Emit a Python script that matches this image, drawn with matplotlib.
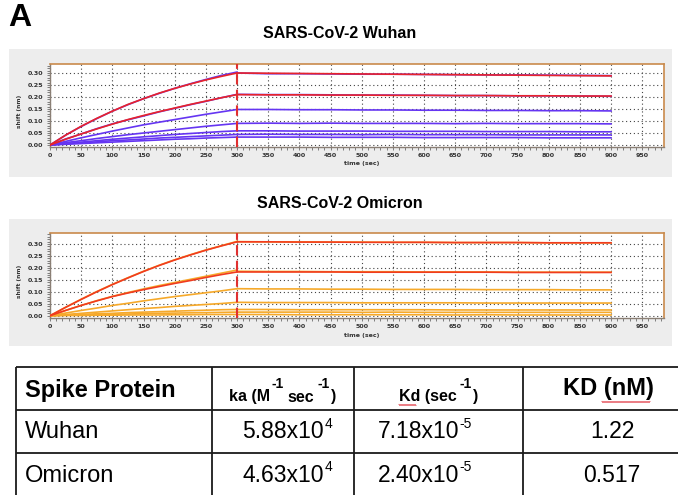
import numpy as np
import matplotlib.pyplot as plt
from matplotlib.patches import Rectangle
from matplotlib.ticker import MultipleLocator

plt.rcParams['font.family'] = ['Liberation Sans', 'DejaVu Sans']

W, H = 678, 495

# time points (sec)
t_assoc = [0, 25, 50, 75, 100, 125, 150, 175, 200, 225, 250, 275, 300]
t_dissoc = [300, 350, 400, 450, 500, 550, 600, 650, 700, 750, 800, 850, 900]

# Wuhan sensorgrams (shift, nm)
wuhan_assoc = [
    [0.000, 0.041, 0.077, 0.110, 0.141, 0.168, 0.193, 0.215, 0.236, 0.255, 0.273, 0.290, 0.304],
    [0.000, 0.025, 0.046, 0.068, 0.088, 0.105, 0.121, 0.138, 0.153, 0.168, 0.182, 0.197, 0.211],
    [0.000, 0.015, 0.030, 0.044, 0.058, 0.071, 0.084, 0.095, 0.106, 0.117, 0.128, 0.138, 0.148],
    [0.000, 0.010, 0.018, 0.027, 0.035, 0.043, 0.050, 0.057, 0.064, 0.071, 0.078, 0.084, 0.090],
    [0.000, 0.006, 0.012, 0.018, 0.024, 0.029, 0.034, 0.039, 0.044, 0.048, 0.052, 0.056, 0.059],
    [0.000, 0.005, 0.009, 0.013, 0.018, 0.021, 0.025, 0.029, 0.032, 0.035, 0.038, 0.041, 0.044],
    [0.000, 0.003, 0.006, 0.009, 0.012, 0.015, 0.018, 0.021, 0.024, 0.026, 0.029, 0.031, 0.033],
]
wuhan_dissoc = [
    [0.300, 0.297, 0.297, 0.296, 0.295, 0.295, 0.294, 0.293, 0.292, 0.292, 0.291, 0.290, 0.289],
    [0.211, 0.210, 0.210, 0.209, 0.208, 0.208, 0.207, 0.206, 0.206, 0.205, 0.205, 0.204, 0.203],
    [0.148, 0.148, 0.147, 0.147, 0.146, 0.146, 0.145, 0.145, 0.144, 0.144, 0.143, 0.143, 0.142],
    [0.090, 0.091, 0.090, 0.091, 0.090, 0.090, 0.090, 0.089, 0.090, 0.089, 0.089, 0.089, 0.088],
    [0.059, 0.059, 0.058, 0.058, 0.058, 0.057, 0.057, 0.057, 0.056, 0.056, 0.056, 0.055, 0.055],
    [0.044, 0.045, 0.044, 0.044, 0.043, 0.044, 0.043, 0.043, 0.043, 0.042, 0.042, 0.042, 0.042],
    [0.033, 0.033, 0.033, 0.032, 0.032, 0.032, 0.031, 0.031, 0.031, 0.031, 0.030, 0.030, 0.030],
]
wuhan_fit_assoc = [
    [0.000, 0.041, 0.078, 0.111, 0.141, 0.169, 0.193, 0.216, 0.236, 0.254, 0.271, 0.286, 0.300],
    [0.000, 0.024, 0.046, 0.067, 0.087, 0.106, 0.123, 0.139, 0.154, 0.169, 0.183, 0.197, 0.210],
]
wuhan_fit_dissoc = [
    [0.300, 0.299, 0.298, 0.297, 0.296, 0.295, 0.294, 0.293, 0.292, 0.291, 0.290, 0.289, 0.288],
    [0.210, 0.209, 0.209, 0.208, 0.208, 0.207, 0.207, 0.206, 0.206, 0.205, 0.205, 0.204, 0.204],
]

# Omicron sensorgrams (shift, nm)
omicron_assoc = [
    [0.000, 0.035, 0.069, 0.101, 0.131, 0.159, 0.186, 0.211, 0.234, 0.255, 0.275, 0.293, 0.311],
    [0.000, 0.022, 0.043, 0.063, 0.081, 0.097, 0.112, 0.126, 0.139, 0.152, 0.165, 0.178, 0.191],
    [0.000, 0.011, 0.022, 0.032, 0.043, 0.052, 0.062, 0.071, 0.080, 0.088, 0.096, 0.104, 0.113],
    [0.000, 0.005, 0.010, 0.015, 0.020, 0.025, 0.030, 0.034, 0.039, 0.043, 0.047, 0.051, 0.056],
    [0.000, 0.003, 0.005, 0.008, 0.010, 0.013, 0.015, 0.017, 0.019, 0.021, 0.023, 0.025, 0.026],
    [0.000, 0.002, 0.003, 0.005, 0.006, 0.007, 0.009, 0.010, 0.011, 0.012, 0.013, 0.014, 0.015],
    [0.000, 0.001, 0.001, 0.002, 0.002, 0.003, 0.003, 0.003, 0.004, 0.004, 0.005, 0.005, 0.005],
]
omicron_dissoc = [
    [0.310, 0.309, 0.309, 0.308, 0.308, 0.307, 0.307, 0.306, 0.306, 0.306, 0.305, 0.305, 0.305],
    [0.186, 0.185, 0.185, 0.184, 0.184, 0.184, 0.183, 0.183, 0.183, 0.182, 0.182, 0.182, 0.182],
    [0.113, 0.112, 0.112, 0.111, 0.111, 0.110, 0.110, 0.110, 0.109, 0.109, 0.109, 0.108, 0.108],
    [0.056, 0.055, 0.055, 0.055, 0.054, 0.054, 0.054, 0.054, 0.053, 0.053, 0.053, 0.053, 0.053],
    [0.026, 0.026, 0.025, 0.025, 0.025, 0.025, 0.025, 0.024, 0.024, 0.024, 0.024, 0.024, 0.024],
    [0.015, 0.015, 0.015, 0.015, 0.014, 0.015, 0.014, 0.014, 0.014, 0.014, 0.014, 0.014, 0.014],
    [0.005, 0.005, 0.004, 0.004, 0.004, 0.004, 0.004, 0.003, 0.004, 0.003, 0.003, 0.003, 0.003],
]
omicron_fit_assoc = [
    [0.000, 0.035, 0.068, 0.100, 0.130, 0.158, 0.185, 0.210, 0.233, 0.254, 0.274, 0.292, 0.309],
    [0.000, 0.022, 0.043, 0.062, 0.080, 0.095, 0.109, 0.122, 0.135, 0.147, 0.160, 0.172, 0.183],
]
omicron_fit_dissoc = [
    [0.309, 0.309, 0.308, 0.308, 0.307, 0.307, 0.307, 0.306, 0.306, 0.306, 0.305, 0.305, 0.305],
    [0.183, 0.183, 0.183, 0.183, 0.182, 0.182, 0.182, 0.182, 0.182, 0.181, 0.181, 0.181, 0.181],
]

# kinetics table
row_names = ['Wuhan', 'Omicron']
ka_mant = ['5.88x10', '4.63x10']
ka_exp = ['4', '4']
kd_mant = ['7.18x10', '2.40x10']
kd_exp = ['-5', '-5']
KD_values = ['1.22', '0.517']

fig = plt.figure(figsize=(W / 100, H / 100), dpi=100)
fig.patch.set_facecolor('white')

# pixel overlay for backgrounds, titles and table
ov = fig.add_axes([0, 0, 1, 1])
ov.set_xlim(0, W)
ov.set_ylim(H, 0)
ov.axis('off')

ov.add_patch(Rectangle((9, 49), 663, 128, color='#ededed', lw=0))
ov.add_patch(Rectangle((9, 219), 663, 127, color='#ededed', lw=0))

ov.text(8, 18, 'A', fontsize=23, fontweight='bold', va='center', ha='left')
ov.text(340, 33, 'SARS-CoV-2 Wuhan', fontsize=11.5, fontweight='bold', ha='center', va='center')
ov.text(340, 204, 'SARS-CoV-2 Omicron', fontsize=11.5, fontweight='bold', ha='center', va='center')


def px_axes(x0, y0, x1, y1):
    return fig.add_axes([x0 / W, 1 - y1 / H, (x1 - x0) / W, (y1 - y0) / H])


def sensor_panel(ax, ylim, assoc, dissoc, fit_a, fit_d, c_data, c_fit):
    ax.set_facecolor('white')
    ax.set_xlim(0, 985)
    ax.set_ylim(*ylim)
    ax.xaxis.set_major_locator(MultipleLocator(50))
    ax.xaxis.set_minor_locator(MultipleLocator(10))
    ax.yaxis.set_minor_locator(MultipleLocator(0.01))
    ax.set_yticks([0, 0.05, 0.10, 0.15, 0.20, 0.25, 0.30])
    ax.yaxis.set_major_formatter(lambda v, p: f'{v:.2f}')
    ax.grid(True, which='major', ls=(0, (1, 2.5)), color='#444444', lw=0.8)
    for s in ['top', 'right']:
        ax.spines[s].set_color('#c98a4b')
        ax.spines[s].set_linewidth(1.2)
    for s in ['left', 'bottom']:
        ax.spines[s].set_color('#8a7f75')
        ax.spines[s].set_linewidth(1.0)
    ax.tick_params(which='both', direction='out', colors='#6b6b6b', labelsize=4.6,
                   labelcolor='#333333', width=0.6)
    ax.tick_params(which='major', length=2.5, pad=2)
    ax.tick_params(which='minor', length=2)
    for lab in ax.get_xticklabels() + ax.get_yticklabels():
        lab.set_fontweight('bold')
        lab.set_family('DejaVu Sans')
    for a, d in zip(assoc, dissoc):
        ax.plot(t_assoc, a, color=c_data, lw=1.2, zorder=3)
        ax.plot(t_dissoc, d, color=c_data, lw=1.2, zorder=3)
    for a, d in zip(fit_a, fit_d):
        ax.plot(t_assoc, a, color=c_fit, lw=1.2, zorder=4)
        ax.plot(t_dissoc, d, color=c_fit, lw=1.2, zorder=4)
    ax.axvline(300, color='#e03030', lw=1.5, ls=(0, (5, 2.5)), zorder=5)
    ax.text(500, -0.2, 'time (sec)', transform=ax.get_xaxis_transform(), fontsize=4.5,
            fontweight='bold', family='DejaVu Sans', ha='center', va='center', color='#333333')
    ax.text(-0.05, 0.43, 'shift (nm)', transform=ax.transAxes, rotation=90, fontsize=4.2,
            fontweight='bold', family='DejaVu Sans', ha='center', va='center', color='#333333')


ax1 = px_axes(50, 64, 664, 147)
sensor_panel(ax1, (-0.0083, 0.3375), wuhan_assoc, wuhan_dissoc,
             wuhan_fit_assoc, wuhan_fit_dissoc, '#6535f2', '#e8232a')

ax2 = px_axes(50, 233, 664, 318)
sensor_panel(ax2, (-0.0096, 0.346), omicron_assoc, omicron_dissoc,
             omicron_fit_assoc, omicron_fit_dissoc, '#f6a92a', '#f03b1f')

# table grid
lw_t = 1.3
for y in [367, 410, 453]:
    ov.plot([16, W], [y, y], color='#1a1a1a', lw=lw_t, solid_capstyle='butt')
for x in [16, 211.5, 354, 522.5]:
    ov.plot([x, x], [367, H], color='#1a1a1a', lw=lw_t, solid_capstyle='butt')

# header
hdr = dict(fontsize=11.5, fontweight='bold', va='baseline')
sup = dict(fontsize=10, fontweight='bold', va='baseline')
base_y, sup_y = 401.5, 387.5
ov.text(25, 390, 'Spike Protein', fontsize=17, fontweight='bold', ha='left', va='center')
ov.text(270, base_y, 'ka (M', ha='right', **hdr)
ov.text(271, sup_y, '-1', ha='left', **sup)
ov.text(287, base_y, 'sec', ha='left', **hdr)
ov.text(317, sup_y, '-1', ha='left', **sup)
ov.text(331, base_y, ')', ha='left', **hdr)

ov.text(457, base_y, 'Kd (sec', ha='right', **hdr)
ov.text(459, sup_y, '-1', ha='left', **sup)
ov.text(473, base_y, ')', ha='left', **hdr)

ov.text(608, 389, 'KD (nM)', fontsize=17, fontweight='bold', ha='center', va='center')


# spell-check squiggles
def squiggle(x0, x1, y):
    xs = np.arange(x0, x1 + 0.1, 1.0)
    ys = y + np.where(np.arange(len(xs)) % 2 == 0, -0.6, 0.6)
    ov.plot(xs, ys, color='#e0303a', lw=0.6)


squiggle(399, 416, 405)
squiggle(602, 650, 402)

# rows
for i, name in enumerate(row_names):
    yb = 438.5 + i * 43.5
    ov.text(25, yb, name, fontsize=17, ha='left', va='baseline')
    ov.text(324, yb, ka_mant[i], fontsize=16.5, ha='right', va='baseline')
    ov.text(324.5, yb - 11, ka_exp[i], fontsize=10, ha='left', va='baseline')
    ov.text(459, yb, kd_mant[i], fontsize=16.5, ha='right', va='baseline')
    ov.text(459.5, yb - 11, kd_exp[i], fontsize=10, ha='left', va='baseline')
    ov.text(612, yb, KD_values[i], fontsize=16.5, ha='center', va='baseline')

fig.savefig('out.png', dpi=100)
